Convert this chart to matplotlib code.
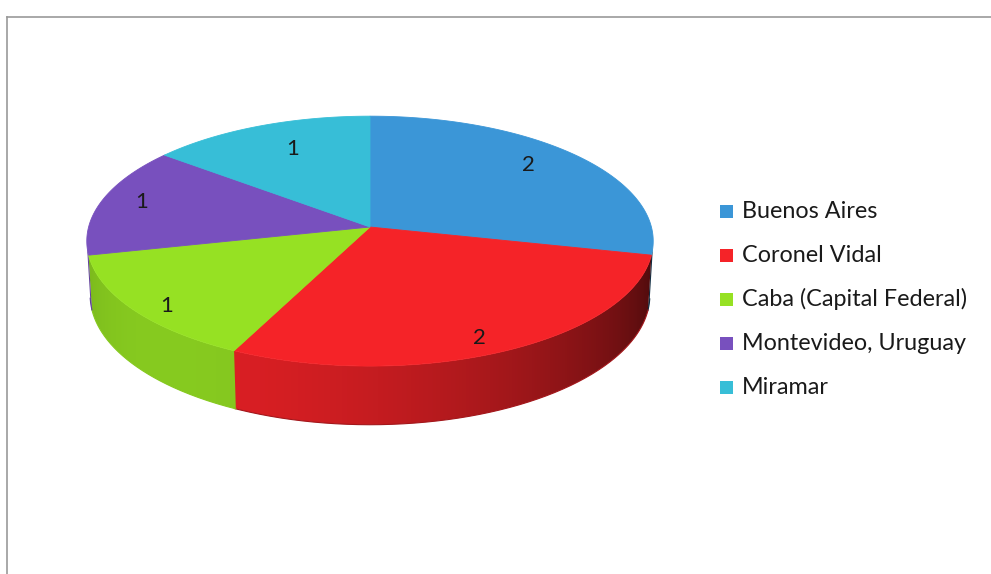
import numpy as np
import matplotlib.pyplot as plt
from matplotlib.patches import Polygon, Rectangle
from matplotlib.colors import to_rgb

# data
cities = ['Buenos Aires', 'Coronel Vidal', 'Caba (Capital Federal)',
          'Montevideo, Uruguay', 'Miramar']
counts = [2, 2, 1, 1, 1]
colors = ['#3B96D7', '#F52328', '#96E123', '#7850BE', '#37BED7']

plt.rcParams['font.family'] = ['Lato', 'DejaVu Sans']

# 3d view of the pie (pixel space)
cx, cy = 370, 227
focal = 2240
dist = 7.96
tilt = np.radians(26)
thick = 0.215


def project(theta, r=1.0, y=0.0):
    X = r * np.cos(theta)
    Z = -r * np.sin(theta)
    yc = y * np.cos(tilt) - Z * np.sin(tilt)
    zc = dist - y * np.sin(tilt) - Z * np.cos(tilt)
    return cx + focal * X / zc, cy - focal * yc / zc


def shade(color, theta):
    k = 0.5 + 0.4 * np.cos(theta - np.radians(230))
    return np.clip(np.outer(k, to_rgb(color)), 0, 1)


fig = plt.figure(figsize=(9.91, 5.74), dpi=100)
ax = fig.add_axes([0, 0, 1, 1])
ax.set_xlim(0, 991)
ax.set_ylim(574, 0)
ax.axis('off')

total = sum(counts)
bounds = 90 - np.concatenate([[0], np.cumsum(counts)]) * 360 / total
bounds = np.where(bounds < 0, bounds + 360, bounds)
bounds[0] = 450
# visible part of the outer wall
edge = np.degrees(np.arcsin(1 / (dist * np.cos(tilt))))
front_lo, front_hi = 180 + edge, 360 - edge

for i, c in enumerate(colors):
    lo = max(bounds[i + 1], front_lo)
    hi = min(bounds[i], front_hi)
    if hi <= lo:
        continue
    ts = np.radians(np.linspace(lo - 0.3, hi, 200))
    tx, ty = project(ts)
    bx, by = project(ts[::-1], y=-thick)
    pts = np.column_stack([np.r_[tx, bx], np.r_[ty, by]])
    wall = Polygon(pts, closed=True, facecolor='none', edgecolor='none')
    ax.add_patch(wall)
    xs = np.linspace(pts[:, 0].min(), pts[:, 0].max(), 400)
    tcol = np.interp(xs, tx, ts)
    img = shade(c, tcol)[np.newaxis, :, :].repeat(2, axis=0)
    im = ax.imshow(img, extent=[xs[0], xs[-1], pts[:, 1].max(),
                                pts[:, 1].min()],
                   aspect='auto', interpolation='bilinear')
    im.set_clip_path(wall)
    # soft bottom rim
    ax.plot(bx, by, color=tuple(shade(c, ts[::-1])[len(ts) // 2]), lw=0.8)

ax.set_xlim(0, 991)
ax.set_ylim(574, 0)

# top surface
for i, c in enumerate(colors):
    ts = np.radians(np.linspace(bounds[i], bounds[i + 1], 200))
    xs, ys = project(ts)
    pts = np.column_stack([np.r_[cx, xs], np.r_[cy, ys]])
    ax.add_patch(Polygon(pts, closed=True, facecolor=c, edgecolor=c,
                         linewidth=0.6))

# data labels
for i, v in enumerate(counts):
    mid = np.radians((bounds[i] + bounds[i + 1]) / 2)
    r = 0.80 - 0.08 * np.sin(mid) + 0.08 * np.cos(mid) ** 2
    mid = mid + np.radians(3) * np.sin(2 * mid)
    lx, ly = project(mid, r=r)
    ax.text(lx, ly, str(v), ha='center', va='center', fontsize=16,
            color='#1a1a1a')

# legend
for i, name in enumerate(cities):
    y = 211 + 44 * i
    ax.add_patch(Rectangle((720, y - 6.5), 13, 13, facecolor=colors[i],
                           edgecolor='none'))
    ax.text(742, y, name, ha='left', va='center', fontsize=16.8,
            color='#1a1a1a')

# chart border
ax.plot([7, 991], [17, 17], color='#9a9a9a', lw=1.2)
ax.plot([7, 7], [17, 574], color='#9a9a9a', lw=1.2)

plt.savefig('out.png', dpi=100)
